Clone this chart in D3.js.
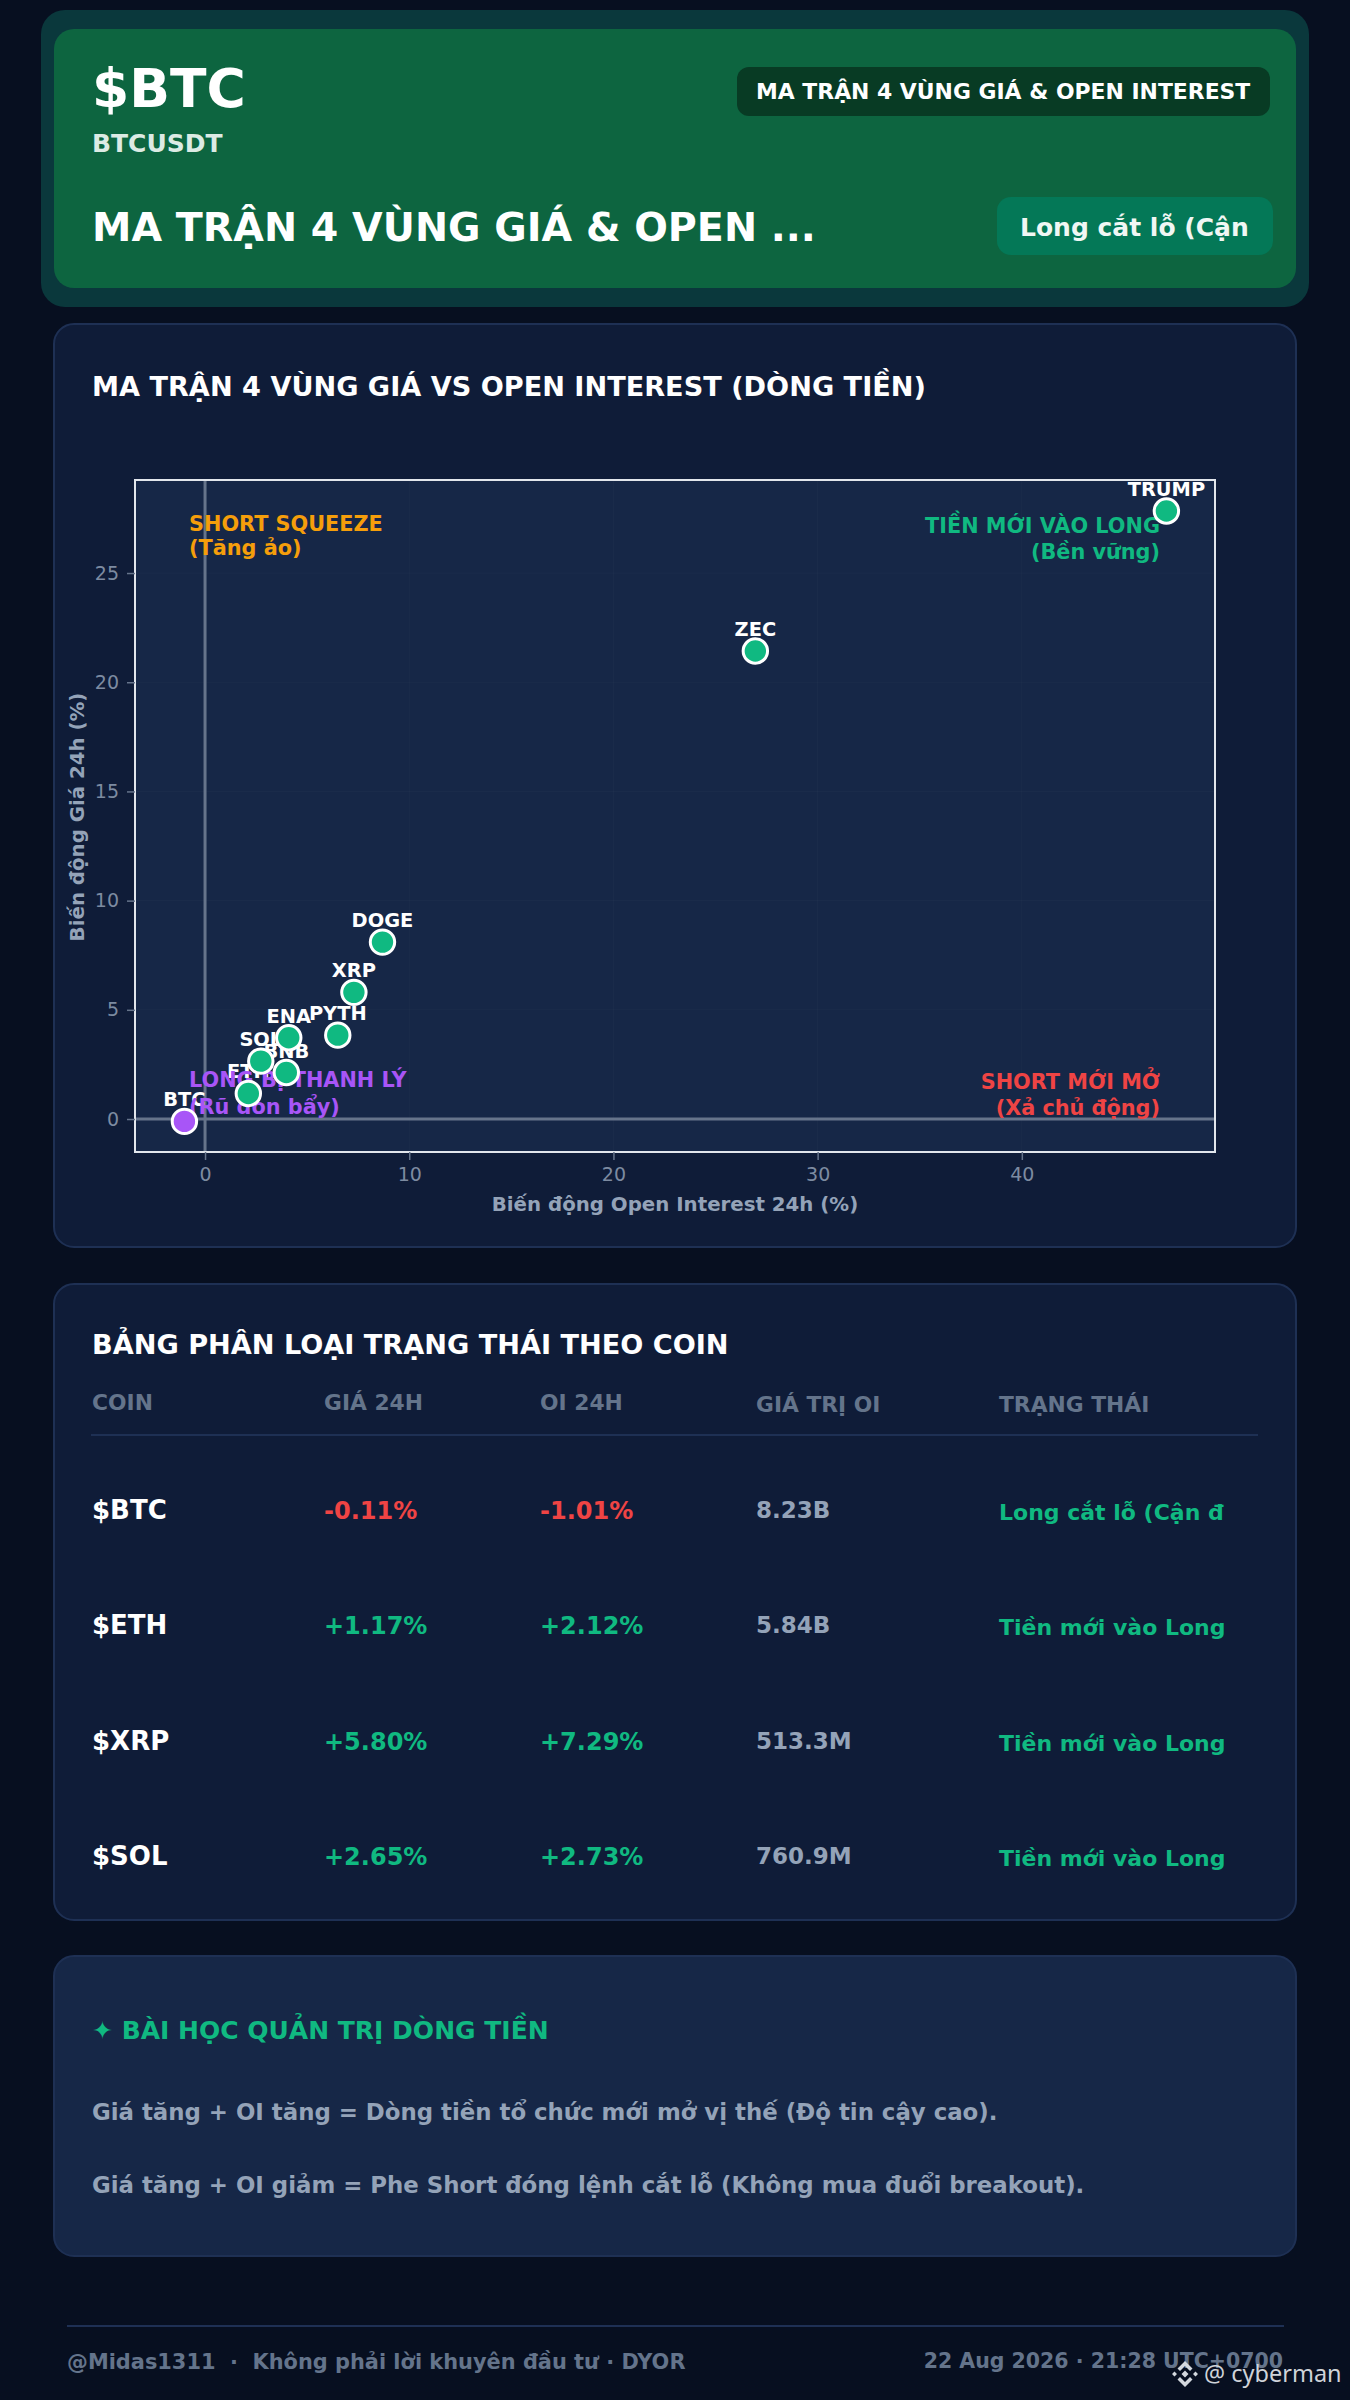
<!DOCTYPE html>
<html>
<head>
<meta charset="utf-8">
<title>BTC matrix</title>
<script src="https://cdn.jsdelivr.net/npm/d3@7"></script>
<style>
  html, body { margin: 0; padding: 0; background: #070f20; }
  svg { display: block; }
  text { font-family: "DejaVu Sans", sans-serif; }
</style>
</head>
<body>
<div id="chart-area"></div>
<script>
// scatter values
const coins = ["BTC", "ETH", "SOL", "BNB", "ENA", "PYTH", "XRP", "DOGE", "ZEC", "TRUMP"];
const oiChange = [-1.01, 2.12, 2.73, 3.98, 4.1, 6.5, 7.29, 8.69, 26.95, 47.08];
const priceChange = [-0.11, 1.17, 2.65, 2.13, 3.72, 3.84, 5.8, 8.1, 21.43, 27.84];
const xTicks = [0, 10, 20, 30, 40];
const yTicks = [0, 5, 10, 15, 20, 25];

// table rows
const tableHead = ["COIN", "GIÁ 24H", "OI 24H", "GIÁ TRỊ OI", "TRẠNG THÁI"];
const tableCoins = ["$BTC", "$ETH", "$XRP", "$SOL"];
const tablePrice = [-0.11, 1.17, 5.80, 2.65];
const tableOi = [-1.01, 2.12, 7.29, 2.73];
const tableValue = ["8.23B", "5.84B", "513.3M", "760.9M"];
const tableState = ["Long cắt lỗ (Cận đ", "Tiền mới vào Long", "Tiền mới vào Long", "Tiền mới vào Long"];

const GREEN = "#10b981", RED = "#ef4444", PURPLE = "#a855f7", ORANGE = "#f59e0b";
const SLATE = "#94a3b8", DIM = "#64748b";

const svg = d3.select("#chart-area").append("svg")
  .attr("width", 1350)
  .attr("height", 2400);

function box(x, y, w, h, r, fill, stroke) {
  svg.append("rect")
    .attr("x", x).attr("y", y)
    .attr("width", w).attr("height", h)
    .attr("rx", r)
    .attr("fill", fill)
    .attr("stroke", stroke || "none")
    .attr("stroke-width", stroke ? 2 : 0);
}

function label(parent, x, y, str, size, fill, opts) {
  opts = opts || {};
  return parent.append("text")
    .attr("x", x).attr("y", y)
    .attr("font-size", size)
    .attr("font-weight", opts.weight || "bold")
    .attr("text-anchor", opts.anchor || "start")
    .attr("fill", fill)
    .text(str);
}

svg.append("rect").attr("width", 1350).attr("height", 2400).attr("fill", "#070f20");

// header
box(41, 10, 1268, 297, 24, "#0a383c");
box(54, 29, 1242, 259, 20, "#0d6540");
label(svg, 92, 107, "$BTC", 53.5, "#fff");
label(svg, 92, 152, "BTCUSDT", 25, "#dcebe4");
label(svg, 92, 241, "MA TRẬN 4 VÙNG GIÁ & OPEN ...", 39.6, "#fff");
box(737, 67, 533, 49, 12, "#083b24");
label(svg, 756, 99, "MA TRẬN 4 VÙNG GIÁ & OPEN INTEREST", 21.9, "#fff");
box(997, 197, 276, 58, 14, "#047857");
label(svg, 1020, 236, "Long cắt lỗ (Cận", 25, "#f0f7f4");

// cards
box(54, 324, 1242, 923, 20, "#0f1c38", "#1e3054");
box(54, 1284, 1242, 636, 20, "#0f1c38", "#1e3054");
box(54, 1956, 1242, 300, 20, "#162747", "#1e3054");

label(svg, 92, 396, "MA TRẬN 4 VÙNG GIÁ VS OPEN INTEREST (DÒNG TIỀN)", 27.15, "#fff");

// scatter
const plotL = 135, plotR = 1215, plotT = 480, plotB = 1152;
const x = d3.scaleLinear().domain([-3.43, 49.46]).range([plotL, plotR]);
const y = d3.scaleLinear().domain([-1.51, 29.26]).range([plotB, plotT]);

svg.append("rect")
  .attr("x", plotL).attr("y", plotT)
  .attr("width", plotR - plotL).attr("height", plotB - plotT)
  .attr("fill", "#162747");

const grid = svg.append("g").attr("stroke", "rgba(255,255,255,0.025)");
grid.selectAll("line.gx").data(xTicks).join("line").attr("class", "gx")
  .attr("x1", d => x(d)).attr("x2", d => x(d)).attr("y1", plotT).attr("y2", plotB);
grid.selectAll("line.gy").data(yTicks).join("line").attr("class", "gy")
  .attr("y1", d => y(d)).attr("y2", d => y(d)).attr("x1", plotL).attr("x2", plotR);

svg.append("line").attr("x1", x(0)).attr("x2", x(0)).attr("y1", plotT).attr("y2", plotB)
  .attr("stroke", "#66748b").attr("stroke-width", 3);
svg.append("line").attr("y1", y(0)).attr("y2", y(0)).attr("x1", plotL).attr("x2", plotR)
  .attr("stroke", "#66748b").attr("stroke-width", 3);

svg.append("rect")
  .attr("x", plotL).attr("y", plotT)
  .attr("width", plotR - plotL).attr("height", plotB - plotT)
  .attr("fill", "none").attr("stroke", "#e2e6ec").attr("stroke-width", 2);

const xAxis = svg.append("g")
  .attr("transform", "translate(0," + plotB + ")")
  .call(d3.axisBottom(x).tickValues(xTicks).tickSize(8).tickPadding(8));
const yAxis = svg.append("g")
  .attr("transform", "translate(" + plotL + ",0)")
  .call(d3.axisLeft(y).tickValues(yTicks).tickSize(8).tickPadding(8));
[xAxis, yAxis].forEach(a => {
  a.select(".domain").remove();
  a.selectAll("line").attr("stroke", "#66748b").attr("stroke-width", 1.5);
  a.selectAll("text").attr("fill", "#7d8ba1").attr("font-size", 19)
    .attr("font-family", '"DejaVu Sans", sans-serif');
});

label(svg, 675, 1211, "Biến động Open Interest 24h (%)", 19.8, SLATE, { anchor: "middle" });
label(svg, 0, 0, "Biến động Giá 24h (%)", 19.8, SLATE, { anchor: "middle" })
  .attr("transform", "translate(84,817) rotate(-90)");

// point names sit under the zone notes, the dots go on top
svg.append("g").selectAll("text").data(coins).join("text")
  .attr("x", (d, i) => x(oiChange[i]))
  .attr("y", (d, i) => y(priceChange[i]) - 15)
  .attr("text-anchor", "middle")
  .attr("font-size", 19.4)
  .attr("font-weight", "bold")
  .attr("fill", "#fff")
  .text(d => d);

label(svg, 189, 531, "SHORT SQUEEZE", 20.8, ORANGE);
label(svg, 189, 555, "(Tăng ảo)", 20.8, ORANGE);
label(svg, 1160, 533, "TIỀN MỚI VÀO LONG", 20.8, GREEN, { anchor: "end" });
label(svg, 1160, 559, "(Bền vững)", 20.8, GREEN, { anchor: "end" });
label(svg, 189, 1087, "LONG BỊ THANH LÝ", 20.8, PURPLE);
label(svg, 189, 1114, "(Rũ đòn bẩy)", 20.8, PURPLE);
label(svg, 1160, 1089, "SHORT MỚI MỞ", 20.8, RED, { anchor: "end" });
label(svg, 1160, 1115, "(Xả chủ động)", 20.8, RED, { anchor: "end" });

svg.append("g").selectAll("circle").data(coins).join("circle")
  .attr("cx", (d, i) => x(oiChange[i]))
  .attr("cy", (d, i) => y(priceChange[i]))
  .attr("r", 12.2)
  .attr("fill", (d, i) => priceChange[i] < 0 ? PURPLE : GREEN)
  .attr("stroke", "#fff")
  .attr("stroke-width", 3);

// table
label(svg, 92, 1354, "BẢNG PHÂN LOẠI TRẠNG THÁI THEO COIN", 27.15, "#fff");

const colX = [92, 324, 540, 756, 999];
const rowY = d3.scaleLinear().domain([0, 3]).range([1519, 1865]);
const pct = v => (v < 0 ? "" : "+") + v.toFixed(2) + "%";

tableHead.forEach((h, i) => label(svg, colX[i], i < 3 ? 1410 : 1412, h, 21.8, DIM));
svg.append("line").attr("x1", 91).attr("x2", 1258).attr("y1", 1435).attr("y2", 1435)
  .attr("stroke", "#1e3054").attr("stroke-width", 2);

tableCoins.forEach((c, i) => {
  const yy = rowY(i);
  label(svg, colX[0], yy, c, 26, "#fff");
  label(svg, colX[1], yy, pct(tablePrice[i]), 24, tablePrice[i] < 0 ? RED : GREEN);
  label(svg, colX[2], yy, pct(tableOi[i]), 24, tableOi[i] < 0 ? RED : GREEN);
  label(svg, colX[3], yy - 1, tableValue[i], 23, SLATE);
  label(svg, colX[4], yy + 1, tableState[i], 22, GREEN);
});

// lesson card
label(svg, 92, 2039, "✦ BÀI HỌC QUẢN TRỊ DÒNG TIỀN", 25, GREEN);
label(svg, 92, 2120, "Giá tăng + OI tăng = Dòng tiền tổ chức mới mở vị thế (Độ tin cậy cao).", 22.85, SLATE);
label(svg, 92, 2193, "Giá tăng + OI giảm = Phe Short đóng lệnh cắt lỗ (Không mua đuổi breakout).", 22.85, SLATE);

// footer
svg.append("line").attr("x1", 67).attr("x2", 1284).attr("y1", 2326).attr("y2", 2326)
  .attr("stroke", "#1e3054").attr("stroke-width", 2);
label(svg, 67, 2369, "@Midas1311  ·  Không phải lời khuyên đầu tư · DYOR", 20.9, DIM).attr("xml:space", "preserve");
label(svg, 1283, 2368, "22 Aug 2026 · 21:28 UTC+0700", 20.5, DIM, { anchor: "end" });

// watermark
const mark = svg.append("g").attr("transform", "translate(1185,2374)").attr("fill", "#d4d8de");
mark.append("path").attr("d", "M0-13 7.5-5.5 5-3 0-8-5-3-7.5-5.5ZM0 13 7.5 5.5 5 3 0 8-5 3-7.5 5.5ZM0-3.5 3.5 0 0 3.5-3.5 0ZM-10.5-2.5-8 0-10.5 2.5-13 0ZM10.5-2.5 13 0 10.5 2.5 8 0Z");
label(svg, 1204, 2382, "@ cyberman", 23.5, "#cfd3d9", { weight: "normal" }).style("font-family", '"Noto Sans", sans-serif');
</script>
</body>
</html>
